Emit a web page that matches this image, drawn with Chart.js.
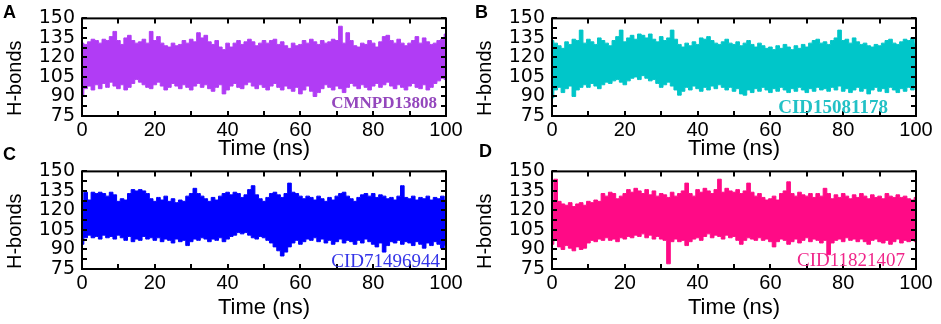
<!DOCTYPE html>
<html>
<head>
<meta charset="utf-8">
<title>H-bonds</title>
<script src="https://cdn.jsdelivr.net/npm/chart.js@4.4.0/dist/chart.umd.min.js"></script>
<style>
  body { margin: 0; background: #fff; width: 941px; height: 324px; position: relative; overflow: hidden; }
  canvas { position: absolute; }
  .letter { position: absolute; font: bold 18px 'Liberation Sans', Arial, sans-serif; line-height: 1; color: #000; }
  .tag { position: absolute; font-family: 'Liberation Serif', 'Times New Roman', serif; line-height: 1; text-align: right; white-space: nowrap; width: 200px; }
</style>
</head>
<body>
<canvas id="chartA" width="470" height="162" style="left:0;top:0"></canvas>
<canvas id="chartB" width="470" height="162" style="left:470px;top:0"></canvas>
<canvas id="chartC" width="470" height="168" style="left:0;top:153px"></canvas>
<canvas id="chartD" width="470" height="168" style="left:470px;top:153px"></canvas>

<div class="letter" style="left:3px;top:3px">A</div>
<div class="letter" style="left:475px;top:3px">B</div>
<div class="letter" style="left:3px;top:145px">C</div>
<div class="letter" style="left:479px;top:142px">D</div>

<div class="tag" style="left:237px;top:94px;font-size:17px;font-weight:bold;color:#9447bd">CMNPD13808</div>
<div class="tag" style="left:688px;top:97px;font-size:19px;font-weight:bold;color:#22c1c6">CID15081178</div>
<div class="tag" style="left:240px;top:251px;font-size:19px;color:#3434e8">CID71496944</div>
<div class="tag" style="left:705px;top:250px;font-size:19px;color:#f0268a">CID11821407</div>

<script>
// time axis (ns), one reading per ns
const timeNs = [0,1,2,3,4,5,6,7,8,9,10,11,12,13,14,15,16,17,18,19,20,21,22,23,24,25,26,27,28,29,30,
  31,32,33,34,35,36,37,38,39,40,41,42,43,44,45,46,47,48,49,50,51,52,53,54,55,56,57,58,59,60,
  61,62,63,64,65,66,67,68,69,70,71,72,73,74,75,76,77,78,79,80,81,82,83,84,85,86,87,88,89,90,
  91,92,93,94,95,96,97,98,99,100];

const xTicks = [0, 20, 40, 60, 80, 100];
const xTickMarks = [0, 10, 20, 30, 40, 50, 60, 70, 80, 90, 100];
const yTicks = [75, 90, 105, 120, 135, 150];
const yTickMarks = [75, 82.5, 90, 97.5, 105, 112.5, 120, 127.5, 135, 142.5, 150];

// upper / lower edge of the H-bond trace, read per ns
const upperA = [131,130,132,134,133,131,134,133,136,140,133,130,135,137,133,131,132,134,131,140,
  133,136,131,129,128,131,129,130,133,131,134,132,139,135,137,132,130,133,128,126,
  131,128,131,133,130,132,134,132,129,131,133,131,133,134,130,132,129,127,131,129,
  130,133,131,134,132,130,133,131,132,134,133,144,131,139,133,129,128,131,130,133,
  131,128,132,136,137,133,131,134,131,129,131,133,136,131,135,132,130,131,133,134,138];
const lowerA = [90,96,98,95,99,96,100,97,101,98,96,99,95,97,100,103,101,99,97,96,
  99,101,98,95,97,100,98,96,99,97,95,98,100,97,99,96,94,97,99,92,
  95,98,100,97,96,99,101,98,96,99,97,95,98,100,97,95,98,96,94,97,
  92,95,98,94,90,93,96,99,97,95,98,96,93,97,100,98,96,99,97,95,
  98,100,97,99,101,98,96,99,97,95,98,100,97,96,99,95,97,100,102,104,103];

const upperB = [133,131,129,127,132,130,134,133,141,131,134,132,130,135,133,131,129,133,136,141,
  132,135,137,134,138,137,135,138,134,132,136,133,135,141,134,130,128,131,129,132,
  130,135,134,136,133,131,130,132,134,131,130,132,129,131,133,130,128,131,129,127,
  128,126,129,127,130,128,126,129,127,130,128,131,133,134,131,132,130,133,135,141,
  133,134,131,135,132,130,131,129,128,130,129,131,133,134,131,130,132,134,133,135,131];
const lowerB = [89,95,97,93,96,98,90,95,97,99,97,100,98,96,99,101,100,102,103,101,
  99,102,104,105,103,106,104,102,103,100,97,99,101,98,95,91,94,97,95,98,
  96,94,97,95,98,96,99,97,95,97,94,96,92,91,95,93,96,94,97,95,
  93,96,94,97,95,93,96,94,97,95,93,96,94,97,95,96,94,97,95,98,
  94,96,93,95,97,94,96,92,95,97,94,96,93,97,95,93,96,94,97,95,99];

const upperC = [127,134,128,134,133,134,133,131,134,132,127,129,128,133,136,135,136,135,133,129,
  127,130,128,131,127,129,126,128,127,131,133,137,133,131,129,127,130,128,131,133,
  134,132,134,133,130,132,136,139,132,129,127,130,133,134,132,130,133,141,134,133,
  131,129,131,130,128,131,129,127,130,128,131,133,134,131,129,127,130,132,133,131,
  133,130,132,131,129,130,128,131,139,130,129,131,128,130,129,131,128,130,129,131,128];
const lowerC = [94,99,101,99,100,98,101,99,100,98,101,99,97,100,96,98,97,100,98,99,
  97,99,96,98,97,95,98,96,97,93,96,98,97,99,98,96,98,97,99,96,
  98,100,101,103,102,103,101,99,98,100,99,97,95,92,89,85,88,92,95,97,
  94,96,98,97,99,96,98,95,97,94,96,98,95,97,96,94,97,95,98,96,
  94,92,95,88,93,96,95,97,94,96,95,93,96,94,91,95,93,96,94,91,93];

const upperD = [127,144,127,125,124,126,123,125,126,124,127,126,128,127,133,131,134,133,129,131,
  133,136,134,137,135,133,136,132,135,131,133,132,130,134,131,133,135,141,133,131,
  136,134,137,135,133,136,144,134,137,135,134,136,133,135,141,134,131,133,130,128,
  129,131,128,133,135,142,133,131,134,132,131,133,130,133,131,137,133,129,132,130,
  133,131,129,132,130,133,131,129,132,130,131,129,133,131,130,132,130,131,129,128,130];
const lowerD = [94,98,92,90,93,91,89,92,90,91,95,97,96,98,97,99,97,98,96,99,
  98,100,99,101,100,102,99,101,98,100,98,97,79,96,98,96,97,93,96,98,
  99,97,100,102,99,101,100,98,101,99,100,97,94,97,99,98,97,99,97,98,
  96,92,96,98,97,94,96,98,95,97,99,96,98,97,95,97,86,95,97,98,
  96,99,97,98,96,98,96,94,97,98,96,95,97,94,96,98,95,97,96,98,96];

const panels = [
  { id: 'chartA', upper: upperA, lower: lowerA, color: '#b13cf5', axisH: 46 },
  { id: 'chartB', upper: upperB, lower: lowerB, color: '#00c6c9', axisH: 46 },
  { id: 'chartC', upper: upperC, lower: lowerC, color: '#0000ff', axisH: 52 },
  { id: 'chartD', upper: upperD, lower: lowerD, color: '#ff0a86', axisH: 52 }
];

// black box with inward ticks on all four sides
const framePlugin = {
  id: 'frame',
  afterDatasetsDraw(chart) {
    const { ctx, chartArea: a, scales: { x, y } } = chart;
    const len = 5;
    ctx.save();
    ctx.strokeStyle = '#000';
    ctx.lineWidth = 2;
    ctx.beginPath();
    xTickMarks.forEach(v => {
      const px = Math.round(x.getPixelForValue(v));
      ctx.moveTo(px, a.top); ctx.lineTo(px, a.top + len);
      ctx.moveTo(px, a.bottom); ctx.lineTo(px, a.bottom - len);
    });
    yTickMarks.forEach(v => {
      const py = Math.round(y.getPixelForValue(v));
      ctx.moveTo(a.left, py); ctx.lineTo(a.left + len, py);
      ctx.moveTo(a.right, py); ctx.lineTo(a.right - len, py);
    });
    ctx.stroke();
    ctx.strokeRect(a.left, a.top, a.right - a.left, a.bottom - a.top);
    ctx.restore();
  }
};

function points(values) {
  return timeNs.map((t, i) => ({ x: t, y: values[i] }));
}

panels.forEach(p => {
  new Chart(document.getElementById(p.id), {
    type: 'line',
    data: {
      datasets: [
        { data: points(p.upper), borderColor: p.color, borderWidth: 1, pointRadius: 0, stepped: 'middle', fill: false },
        { data: points(p.lower), borderColor: p.color, backgroundColor: p.color, borderWidth: 1, pointRadius: 0, stepped: 'middle', fill: '-1' }
      ]
    },
    options: {
      responsive: false,
      animation: false,
      layout: { padding: { top: 17, right: 24, bottom: 0, left: 0 } },
      plugins: { legend: { display: false }, tooltip: { enabled: false } },
      scales: {
        x: {
          type: 'linear', min: 0, max: 100,
          afterFit: s => { s.height = p.axisH; },
          afterBuildTicks: s => { s.ticks = xTicks.map(v => ({ value: v })); },
          grid: { display: false, drawTicks: false },
          border: { display: false },
          ticks: { color: '#000', padding: 2, maxRotation: 0, autoSkip: false, font: { family: 'Liberation Sans', size: 20 } },
          title: { display: true, text: 'Time (ns)', color: '#000', padding: 0, font: { family: 'Liberation Sans', size: 22 } }
        },
        y: {
          min: 75, max: 150,
          afterFit: s => { s.width = 82; },
          afterBuildTicks: s => { s.ticks = yTicks.map(v => ({ value: v })); },
          grid: { display: false, drawTicks: false },
          border: { display: false },
          ticks: { color: '#000', padding: 7, autoSkip: false, font: { family: 'DejaVu Sans', size: 19 } },
          title: { display: true, text: 'H-bonds', color: '#000', align: 'start', padding: { top: 3 }, font: { family: 'Liberation Sans', size: 20 } }
        }
      }
    },
    plugins: [framePlugin]
  });
});
</script>
</body>
</html>
